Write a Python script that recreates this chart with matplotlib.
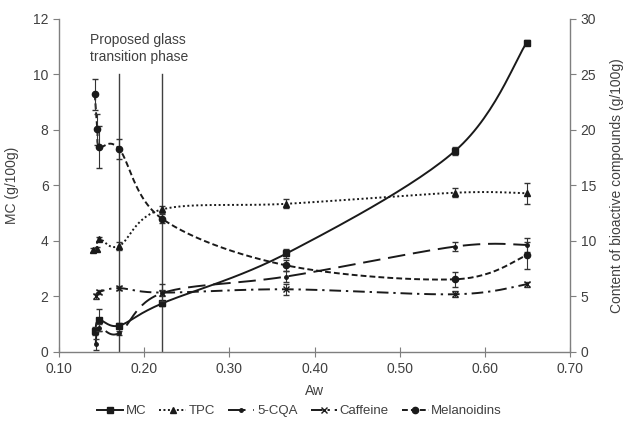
import numpy as np
import matplotlib
matplotlib.use("Agg")
import matplotlib.pyplot as plt
from matplotlib.lines import Line2D

plt.rcParams['font.family'] = ['Liberation Sans', 'DejaVu Sans']
plt.rcParams['font.size'] = 9.5

# --- data ---
aw_mc = [0.1425, 0.1470, 0.1705, 0.2210, 0.3670, 0.5650, 0.6490]
mc = [0.75, 1.15, 0.95, 1.75, 3.55, 7.25, 11.15]
mc_err = [0.15, 0.40, 0.10, 0.10, 0.15, 0.15, 0.08]

aw_tpc = [0.1403, 0.1442, 0.1473, 0.1705, 0.2210, 0.3670, 0.5650, 0.6490]
tpc = [9.2, 9.3, 10.2, 9.55, 12.85, 13.35, 14.35, 14.3]
tpc_err = [0.2, 0.2, 0.2, 0.4, 0.3, 0.4, 0.4, 0.95]

aw_cqa = [0.1430, 0.1470, 0.1705, 0.2210, 0.3670, 0.5650, 0.6490]
cqa = [0.7, 2.2, 1.7, 5.3, 6.8, 9.5, 9.65]
cqa_err = [0.5, 0.3, 0.2, 0.3, 0.5, 0.4, 0.6]

aw_caf = [0.1430, 0.1470, 0.1705, 0.2210, 0.3670, 0.5650, 0.6490]
caf = [5.0, 5.4, 5.75, 5.35, 5.65, 5.2, 6.1]
caf_err = [0.2, 0.2, 0.2, 0.75, 0.5, 0.25, 0.25]

aw_mel = [0.1420, 0.1450, 0.1475, 0.1705, 0.2210, 0.3670, 0.5650, 0.6490]
mel = [23.2, 20.05, 18.5, 18.3, 12.0, 7.8, 6.55, 8.7]
mel_err = [1.4, 1.4, 1.9, 0.9, 0.4, 0.5, 0.7, 1.2]

glass_lines = [0.1705, 0.2210]

DARK = '#1a1a1a'
GRAY = '#7f7f7f'


def smooth(x, y, n=30):
    # Excel-like smoothed line (parametric Catmull-Rom through the points)
    p = np.column_stack([x, y]).astype(float)
    p = np.vstack([p[0], p, p[-1]])
    xs, ys = [], []
    t = np.linspace(0, 1, n)
    for i in range(1, len(p) - 2):
        p0, p1, p2, p3 = p[i - 1], p[i], p[i + 1], p[i + 2]
        c = 0.5 * (np.outer(2 * np.ones_like(t), p1) +
                   np.outer(t, -p0 + p2) +
                   np.outer(t ** 2, 2 * p0 - 5 * p1 + 4 * p2 - p3) +
                   np.outer(t ** 3, -p0 + 3 * p1 - 3 * p2 + p3))
        xs.extend(c[:, 0])
        ys.extend(c[:, 1])
    return np.array(xs), np.array(ys)


fig = plt.figure(figsize=(6.3, 4.25), dpi=100)
ax = fig.add_axes([0.0937, 0.1718, 0.8113, 0.7835])
ax2 = ax.twinx()

ax.set_xlim(0.10, 0.70)
ax.set_ylim(0, 12)
ax2.set_ylim(0, 30)

for xv in glass_lines:
    ax.plot([xv, xv], [0, 10], color='#404040', lw=1.0, zorder=1)

series = [
    (ax, aw_mc, mc, mc_err, '-', 's', 4.5, 'MC'),
    (ax2, aw_tpc, tpc, tpc_err, (0, (1, 1.3)), '^', 5, 'TPC'),
    (ax2, aw_cqa, cqa, cqa_err, (0, (9, 4)), 'o', 2.5, '5-CQA'),
    (ax2, aw_caf, caf, caf_err, (0, (6, 2.5, 1.2, 2.5)), 'x', 4, 'Caffeine'),
    (ax2, aw_mel, mel, mel_err, (0, (3, 1.6)), 'o', 4.5, 'Melanoidins'),
]

handles = []
for a, xv, yv, ev, ls, mk, ms, lab in series:
    sx, sy = smooth(xv, yv)
    a.plot(sx, sy, color=DARK, lw=1.4, linestyle=ls, zorder=3)
    a.errorbar(xv, yv, yerr=ev, fmt=mk, color=DARK, ms=ms, mew=1.0,
               ecolor='#333333', elinewidth=0.8, capsize=2.5, capthick=0.8, zorder=4)
    handles.append(Line2D([], [], color=DARK, lw=1.4, linestyle=ls,
                          marker=mk, ms=ms, label=lab))

for a in (ax, ax2):
    a.spines['top'].set_visible(False)
    for s in ('left', 'right', 'bottom'):
        a.spines[s].set_color(GRAY)
        a.spines[s].set_linewidth(1.0)
    a.tick_params(colors=GRAY, labelcolor='#404040', labelsize=10, length=4)

ax.spines['right'].set_visible(False)
ax2.spines['left'].set_visible(False)
ax2.spines['bottom'].set_visible(False)

ax.set_xticks(np.arange(0.10, 0.701, 0.10))
ax.set_xticklabels([f'{v:.2f}' for v in np.arange(0.10, 0.701, 0.10)])
ax.set_yticks(range(0, 13, 2))
ax2.set_yticks(range(0, 31, 5))
ax.tick_params(axis='x', direction='inout', length=7)
ax.tick_params(axis='y', direction='out')
ax2.tick_params(axis='y', direction='out')

ax.set_xlabel('Aw', color='#404040', fontsize=10, labelpad=6)
ax.set_ylabel('MC (g/100g)', color='#404040', fontsize=10, labelpad=10)
ax2.set_ylabel('Content of bioactive compounds (g/100g)', color='#404040',
               fontsize=10, labelpad=10)

ax.text(0.136, 10.95, 'Proposed glass\ntransition phase', color='#404040',
        fontsize=10, ha='left', va='center', linespacing=1.25)

fig.legend(handles=handles, loc='lower center', bbox_to_anchor=(0.475, -0.01),
           ncol=5, frameon=False, fontsize=9.5, handlelength=2.0,
           handletextpad=0.2, columnspacing=1.0, labelcolor='#404040')

fig.savefig('out.png', dpi=100)
